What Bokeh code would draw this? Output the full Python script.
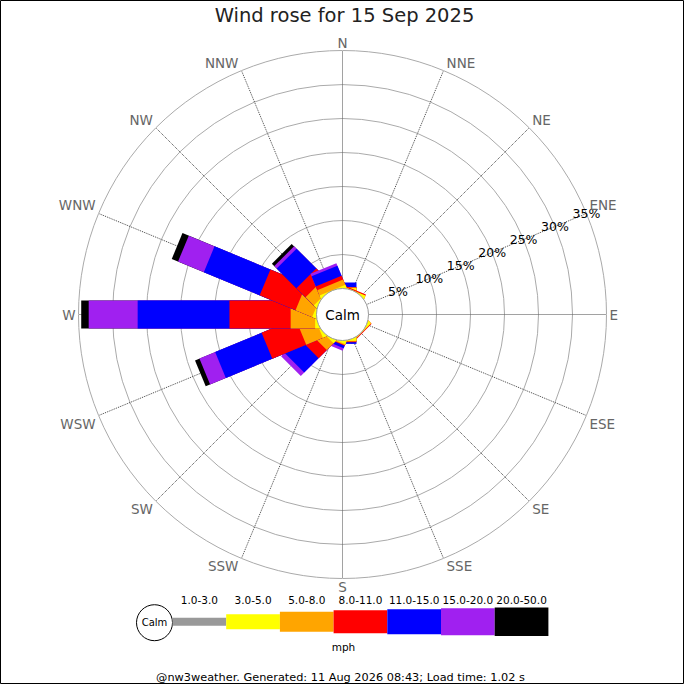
import math
from bokeh.plotting import figure
from bokeh.models import ColumnDataSource, Range1d
from bokeh.embed import file_html
from bokeh.resources import INLINE
from bokeh.core.properties import value

# ---------------- data ----------------
title_text = "Wind rose for 15 Sep 2025"
footer_text = "@nw3weather. Generated: 11 Aug 2026 08:43; Load time: 1.02 s"
unit_text = "mph"
calm_label = "Calm"

directions = ["N", "NNE", "NE", "ENE", "E", "ESE", "SE", "SSE",
              "S", "SSW", "SW", "WSW", "W", "WNW", "NW", "NNW"]
bands = ["1.0-3.0", "3.0-5.0", "5.0-8.0", "8.0-11.0", "11.0-15.0", "15.0-20.0", "20.0-50.0"]
band_colors = ["#999999", "#ffff00", "#ffa500", "#ff0000", "#0000ff", "#a020f0", "#000000"]

# percentage of time per direction for each speed band (N ... NNW)
pct_1_3 = [0, 0, 0, 0, 0, 0, 0, 0, 0, 0, 0, 0, 0, 0, 0, 0]
pct_3_5 = [0.05, 0.02, 0, 0, 0, 0, 0.03, 0, 0.05, 0.05, 0.1, 0.15, 0.2, 0.15, 0.1, 0.05]
pct_5_8 = [0.1, 0.05, 0, 0, 0, 0, 0.03, 0, 0.1, 0.15, 1.4, 2.65, 3.6, 2.65, 1.7, 0.85]
pct_8_11 = [0.05, 0.15, 0, 0, 0, 0, 0.12, 0, 0.1, 0.1, 1.7, 5.4, 9.0, 5.7, 1.9, 0.6]
pct_11_15 = [0.7, 0, 0, 0, 0, 0, 0, 0, 0.25, 0.4, 3.0, 7.4, 13.5, 8.9, 4.1, 1.6]
pct_15_20 = [0, 0, 0, 0, 0, 0, 0, 0, 0, 0.4, 0.7, 2.5, 7.2, 4.1, 0.5, 0.4]
pct_20_50 = [0, 0, 0, 0, 0, 0, 0, 0, 0, 0, 0, 0.7, 1.1, 1.0, 0.5, 0]
band_values = [pct_1_3, pct_3_5, pct_5_8, pct_8_11, pct_11_15, pct_15_20, pct_20_50]

ring_pcts = [5, 10, 15, 20, 25, 30, 35]
ring_labels = ["5%", "10%", "15%", "20%", "25%", "30%", "35%"]

# ---------------- layout / style ----------------
FONT = value("DejaVu Sans")
R0 = 26.0          # radius of 0 % (calm circle), px
K = 6.8            # px per percent
BAR_W = 28.0
R_MAX = ring_pcts[-1]


def rad(p):
    return R0 + p * K


p = figure(width=684, height=684, x_range=Range1d(-342, 342), y_range=Range1d(-370, 314),
           output_backend="svg", toolbar_location=None, min_border=0,
           x_axis_type=None, y_axis_type=None)
p.background_fill_color = "white"
p.border_fill_color = "white"
p.outline_line_color = "black"
p.outline_line_width = 1

# rings
p.circle(x=[0] * len(ring_pcts), y=[0] * len(ring_pcts), radius=[rad(v) for v in ring_pcts],
         fill_color=None, line_color="#aaaaaa", line_width=1)

# spokes
n = len(directions)
angs = [math.radians(i * 360.0 / n) for i in range(n)]
r_out = rad(R_MAX)
p.segment(x0=[R0 * math.sin(a) for a in angs], y0=[R0 * math.cos(a) for a in angs],
          x1=[r_out * math.sin(a) for a in angs], y1=[r_out * math.cos(a) for a in angs],
          line_color="#444444", line_width=1, line_dash="1 1")

# bars: per direction, stacked (outer band first, inner bands drawn over)
bx, by, bw, ba, bc = [], [], [], [], []
for i, a in enumerate(angs):
    cums = []
    c = 0.0
    for k in range(len(bands)):
        c += band_values[k][i]
        cums.append(c)
    for k in range(len(bands) - 1, -1, -1):
        if band_values[k][i] <= 0:
            continue
        r_end = rad(cums[k])
        bx.append(0.5 * r_end * math.sin(a))
        by.append(0.5 * r_end * math.cos(a))
        bw.append(r_end)
        ba.append(math.pi / 2 - a)
        bc.append(band_colors[k])
src = ColumnDataSource(dict(x=bx, y=by, w=bw, a=ba, c=bc))
p.rect(x="x", y="y", width="w", height=BAR_W, angle="a", fill_color="c", line_color=None, source=src)

# calm circle
p.circle(x=[0], y=[0], radius=R0, fill_color="white", line_color="#999999", line_width=1)
p.text(x=[0], y=[0], text=[calm_label], text_font=FONT, text_font_size="13.5px",
       text_color="black", text_align="center", text_baseline="middle")

# percentage labels along ENE
a_lab = math.radians(67.5)
p.text(x=[rad(v) * math.sin(a_lab) for v in ring_pcts], y=[rad(v) * math.cos(a_lab) for v in ring_pcts],
       text=ring_labels, text_font=FONT, text_font_size="12.5px", text_color="black",
       text_align="center", text_baseline="middle")

# direction labels
for d, a in zip(directions, angs):
    s, c = math.sin(a), math.cos(a)
    align = "left" if s > 0.01 else ("right" if s < -0.01 else "center")
    base = "bottom" if c > 0.01 else ("top" if c < -0.01 else "middle")
    dx = 3 if align == "left" else (-3 if align == "right" else 0)
    p.text(x=[r_out * s + dx], y=[r_out * c], text=[d], text_font=FONT, text_font_size="13.5px",
           text_color="#666666", text_align=align, text_baseline=base)

# title
p.text(x=[2], y=[298.7], text=[title_text], text_font=FONT, text_font_size="19.5px",
       text_color="#222222", text_align="center", text_baseline="alphabetic")

# legend
leg_heights = [8, 15, 20, 23, 25, 27, 28.5]
leg_x0, leg_w, leg_y = -170.0, 53.7, -307.2
p.circle(x=[-188], y=[leg_y - 1], radius=18, fill_color="white", line_color="black", line_width=1)
p.text(x=[-188], y=[leg_y - 1], text=[calm_label], text_font=FONT, text_font_size="10px",
       text_color="black", text_align="center", text_baseline="middle")
lefts = [leg_x0 + k * leg_w for k in range(len(bands))]
p.quad(left=lefts, right=[l + leg_w for l in lefts],
       top=[leg_y + h / 2 for h in leg_heights], bottom=[leg_y - h / 2 for h in leg_heights],
       fill_color=band_colors, line_color=None)
p.text(x=[l + leg_w / 2 for l in lefts], y=[-285] * len(bands), text=bands, text_font=FONT,
       text_font_size="10.5px", text_color="black", text_align="center", text_baseline="middle")
p.text(x=[1], y=[-332], text=[unit_text], text_font=FONT, text_font_size="10.5px",
       text_color="black", text_align="center", text_baseline="middle")

# footer
p.text(x=[-2], y=[-363], text=[footer_text], text_font=FONT, text_font_size="11.3px",
       text_color="black", text_align="center", text_baseline="middle")

open("out.html", "w").write(file_html(p, INLINE))
